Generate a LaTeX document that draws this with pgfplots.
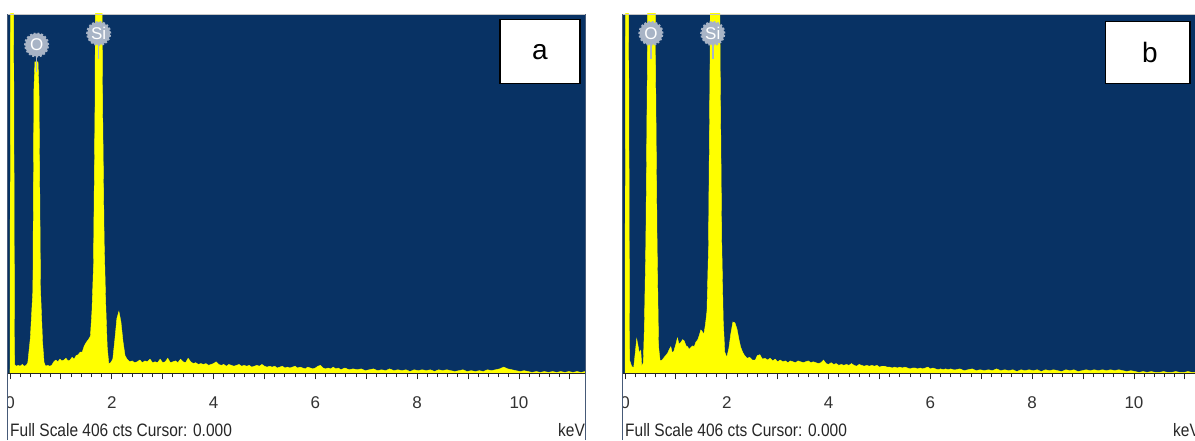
\documentclass[border=0pt]{standalone}
\usepackage{fontspec}
\setmainfont{Liberation Sans}
\usepackage{graphicx}
\usepackage{pgfplots}
\usepackage{pgfplotstable}
\pgfplotsset{compat=1.18}
\definecolor{navy}{RGB}{8,50,100}
\definecolor{spec}{RGB}{255,255,0}
\definecolor{badge}{RGB}{168,180,198}
\definecolor{framec}{RGB}{70,90,120}

\pgfplotstableread{
x y
0.00 0
0.01 430
0.07 430
0.09 10
0.12 8
0.16 9
0.20 8
0.24 10
0.28 8
0.32 9
0.35 12
0.40 40
0.45 94
0.47 320
0.49 352
0.55 352
0.57 320
0.60 94
0.64 35
0.67 12
0.70 8
0.74 9
0.78 8
0.82 9
0.86 13
0.90 15
0.94 13
0.98 16
1.02 14
1.06 15
1.10 17
1.14 14
1.18 15
1.22 18
1.26 16
1.30 20
1.34 21
1.38 24
1.42 24
1.46 31
1.50 35
1.54 38
1.58 42
1.61 70
1.64 120
1.67 300
1.69 600
1.79 600
1.82 300
1.85 150
1.88 80
1.91 30
1.94 11
1.98 12
2.02 16
2.06 38
2.10 62
2.14 70
2.18 58
2.22 36
2.26 20
2.30 16
2.35 13
2.40 14
2.45 12
2.50 13
2.55 15
2.60 12
2.65 14
2.70 13
2.75 16
2.80 12
2.85 13
2.90 12
2.95 16
3.00 12
3.05 13
3.10 17
3.15 12
3.20 13
3.25 14
3.30 12
3.35 16
3.40 13
3.45 12
3.50 17
3.55 13
3.60 11
3.65 12
3.70 10
3.75 11
3.80 10
3.85 11
3.90 9
3.95 10
4.00 11
4.05 13
4.10 10
4.15 9
4.20 10
4.25 8
4.30 10
4.35 9
4.40 8
4.45 9
4.50 10
4.55 8
4.60 9
4.65 8
4.70 9
4.75 7
4.80 8
4.85 9
4.90 8
4.95 10
5.00 8
5.05 7
5.10 8
5.15 7
5.20 8
5.25 6
5.30 7
5.35 8
5.40 6
5.45 7
5.50 6
5.55 7
5.60 8
5.65 6
5.70 7
5.75 6
5.80 5
5.85 7
5.90 6
5.95 5
6.00 6
6.05 8
6.10 9
6.15 6
6.20 5
6.25 6
6.30 5
6.35 7
6.40 5
6.45 6
6.50 4
6.58 6
6.66 4
6.74 5
6.82 4
6.90 5
6.98 3
7.06 4
7.14 5
7.22 3
7.30 4
7.38 3
7.46 5
7.54 3
7.62 4
7.70 3
7.78 4
7.86 2
7.94 4
8.02 3
8.10 4
8.18 3
8.26 4
8.34 2
8.42 4
8.50 3
8.58 4
8.66 3
8.74 2
8.82 3
8.90 4
8.98 2
9.06 3
9.14 2
9.22 3
9.30 2
9.38 4
9.46 3
9.54 4
9.62 5
9.70 7
9.78 5
9.86 4
9.94 3
10.02 2
10.10 3
10.18 2
10.26 1
10.34 2
10.42 1
10.50 2
10.58 1
10.66 2
10.74 1
10.82 2
10.90 1
10.98 2
11.06 1
11.14 2
11.22 1
11.30 2
}\specA

\pgfplotstableread{
x y
0.00 0
0.01 430
0.07 430
0.09 15
0.13 8
0.17 6
0.20 22
0.23 39
0.26 30
0.28 23
0.31 26
0.33 8
0.36 12
0.38 50
0.41 150
0.44 350
0.46 600
0.58 600
0.60 350
0.63 150
0.66 30
0.69 14
0.73 15
0.77 18
0.80 20
0.84 23
0.87 27
0.90 30
0.93 23
0.96 25
1.00 33
1.03 40
1.06 33
1.10 35
1.13 38
1.16 37
1.20 31
1.23 30
1.26 27
1.29 29
1.33 31
1.36 30
1.39 35
1.43 38
1.46 43
1.49 49
1.52 47
1.55 44
1.58 55
1.61 70
1.64 140
1.67 350
1.69 600
1.84 600
1.87 350
1.90 150
1.93 60
1.96 24
2.00 18
2.04 28
2.08 45
2.12 58
2.16 57
2.20 50
2.24 38
2.27 30
2.31 24
2.35 20
2.40 17
2.45 18
2.50 15
2.56 15
2.60 20
2.65 21
2.70 16
2.75 17
2.80 15
2.85 17
2.90 14
2.95 16
3.00 13
3.05 15
3.10 13
3.15 14
3.20 12
3.25 14
3.30 13
3.35 12
3.40 14
3.45 13
3.50 12
3.55 13
3.60 14
3.65 12
3.70 13
3.75 12
3.80 11
3.85 12
3.90 15
3.95 11
4.00 10
4.05 12
4.10 10
4.15 11
4.20 9
4.25 10
4.30 9
4.35 10
4.40 9
4.45 11
4.50 9
4.55 8
4.60 10
4.65 9
4.70 8
4.75 9
4.80 8
4.85 9
4.90 8
4.95 9
5.00 7
5.05 8
5.10 8
5.15 7
5.20 7
5.25 6
5.30 7
5.35 6
5.40 7
5.45 6
5.50 7
5.55 6
5.60 5
5.65 6
5.70 6
5.75 5
5.80 6
5.85 5
5.90 6
5.95 7
6.00 5
6.05 6
6.10 5
6.15 4
6.20 5
6.25 4
6.30 5
6.35 4
6.40 5
6.45 4
6.50 4
6.58 5
6.66 3
6.74 4
6.82 5
6.90 3
6.98 4
7.06 3
7.14 4
7.22 3
7.30 5
7.38 3
7.46 4
7.54 3
7.62 4
7.70 2
7.78 4
7.86 3
7.94 4
8.02 3
8.10 4
8.18 2
8.26 4
8.34 3
8.42 4
8.50 3
8.58 2
8.66 4
8.74 3
8.82 4
8.90 2
8.98 3
9.06 4
9.14 3
9.22 4
9.30 3
9.38 4
9.46 3
9.54 4
9.62 3
9.70 4
9.78 3
9.86 2
9.94 3
10.02 2
10.10 1
10.18 2
10.26 1
10.34 2
10.42 1
10.50 1
10.58 2
10.66 1
10.74 1
10.82 2
10.90 1
10.98 1
11.06 2
11.14 1
11.22 1
11.30 1
}\specB

\pgfplotsset{eds/.style={
  anchor=south west, scale only axis,
  width=577.5pt, height=359.3pt,
  xmin=-0.049, xmax=11.297, ymin=0, ymax=406,
  axis background/.style={fill=navy},
  axis line style={draw=none},
  ytick=\empty,
  xtick={0,...,11}, xticklabels={0,,2,,4,,6,,8,,10,},
  minor x tick num=4,
  tick align=outside, xtick pos=left,
  major tick length=6pt, minor tick length=4pt,
  every tick/.style={black!85, line width=0.9pt},
  xticklabel style={font=\fontsize{17}{17}\selectfont, text=black!80, yshift=-14pt},
}}
\tikzset{badgenode/.style={circle, fill=badge, draw=badge, line width=2.2pt,
  dash pattern=on 2pt off 1.8pt, minimum size=23pt, inner sep=0pt,
  text=white, font=\fontsize{17}{17}\selectfont}}

\begin{document}
\begin{tikzpicture}
\fill[white] (0,0) rectangle (1195pt,440pt);
\useasboundingbox (0,0) rectangle (1195pt,440pt);

% ---------- panel a ----------
\begin{axis}[eds, at={(7.5pt,66.7pt)}]
\addplot[fill=spec, draw=spec, line width=0.4pt] table[x=x,y=y] {\specA} \closedcycle;
\draw[black!85, line width=1.3pt] (rel axis cs:0,0) -- (rel axis cs:1,0);
\draw[gray!45, line width=0.9pt] (rel axis cs:0,1) -- (rel axis cs:1,1);
\draw[badge, line width=1.5pt] (axis cs:0.524,371) -- (axis cs:0.524,340);
\node[badgenode] at (axis cs:0.524,371) {O};
\draw[badge, line width=1.5pt] (axis cs:1.743,384) -- (axis cs:1.743,355);
\node[badgenode] at (axis cs:1.743,384) {Si};
\end{axis}

% ---------- panel b ----------
\begin{axis}[eds, at={(622.5pt,66.7pt)}]
\addplot[fill=spec, draw=spec, line width=0.4pt] table[x=x,y=y] {\specB} \closedcycle;
\draw[black!85, line width=1.3pt] (rel axis cs:0,0) -- (rel axis cs:1,0);
\draw[gray!45, line width=0.9pt] (rel axis cs:0,1) -- (rel axis cs:1,1);
\draw[badge, line width=1.5pt] (axis cs:0.51,384) -- (axis cs:0.51,355);
\node[badgenode] at (axis cs:0.51,384) {O};
\draw[badge, line width=1.5pt] (axis cs:1.725,384) -- (axis cs:1.725,355);
\node[badgenode] at (axis cs:1.725,384) {Si};
\end{axis}

% clip cut "0" labels at the frame edges
\fill[white] (0,20pt) rectangle (7.5pt,60pt);
\fill[white] (600pt,20pt) rectangle (622.5pt,60pt);

% frame lines
\draw[framec, line width=1.2pt] (7.5pt,0) -- (7.5pt,426pt);
\draw[framec, line width=1.2pt] (585.5pt,0) -- (585.5pt,426pt);
\draw[framec, line width=1.2pt] (622.5pt,0) -- (622.5pt,426pt);

% bottom texts
\node[anchor=base west, inner sep=0pt, text=black!85] at (10pt,4pt)
  {\fontsize{18}{18}\selectfont\scalebox{0.86}[1]{Full Scale 406 cts Cursor: 0.000}};
\node[anchor=base west, inner sep=0pt, text=black!85] at (558pt,4pt)
  {\fontsize{18}{18}\selectfont\scalebox{0.86}[1]{keV}};
\node[anchor=base west, inner sep=0pt, text=black!85] at (625pt,4pt)
  {\fontsize{18}{18}\selectfont\scalebox{0.86}[1]{Full Scale 406 cts Cursor: 0.000}};
\node[anchor=base west, inner sep=0pt, text=black!85] at (1173pt,4pt)
  {\fontsize{18}{18}\selectfont\scalebox{0.86}[1]{keV}};

% panel letters
\draw[fill=white, line width=1.5pt] (500pt,356.5pt) rectangle (580pt,420.5pt);
\node[font=\fontsize{28}{28}\selectfont] at (540pt,388pt) {a};
\draw[fill=white, line width=1.5pt] (1105.7pt,356.7pt) rectangle (1190pt,418.3pt);
\node[font=\fontsize{28}{28}\selectfont] at (1150pt,387.5pt) {b};
\end{tikzpicture}
\end{document}
